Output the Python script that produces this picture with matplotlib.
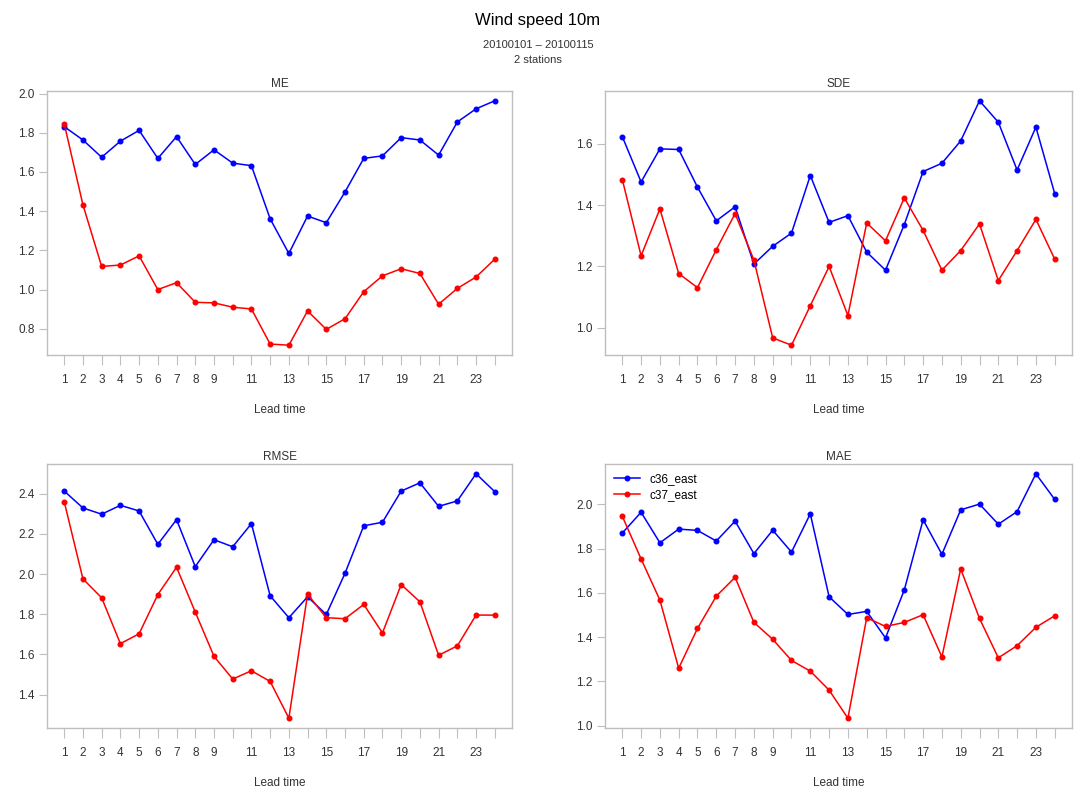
import matplotlib
matplotlib.use("Agg")
import matplotlib.pyplot as plt

plt.rcParams['font.family'] = ['Liberation Sans', 'DejaVu Sans']

lead_time = list(range(1, 25))
shown_labels = [1, 2, 3, 4, 5, 6, 7, 8, 9, 11, 13, 15, 17, 19, 21, 23]
series_names = ["c36_east", "c37_east"]

me_c36 = [1.831, 1.763, 1.675, 1.757, 1.812, 1.669, 1.780, 1.638, 1.713, 1.645, 1.632, 1.361,
          1.184, 1.375, 1.341, 1.498, 1.669, 1.682, 1.775, 1.763, 1.686, 1.855, 1.922, 1.963]
me_c37 = [1.846, 1.432, 1.118, 1.125, 1.172, 1.000, 1.035, 0.935, 0.932, 0.910, 0.901, 0.722,
          0.716, 0.891, 0.797, 0.851, 0.989, 1.070, 1.106, 1.082, 0.925, 1.006, 1.064, 1.155]

sde_c36 = [1.624, 1.476, 1.584, 1.582, 1.459, 1.349, 1.395, 1.208, 1.266, 1.309, 1.497, 1.344,
           1.366, 1.247, 1.188, 1.337, 1.510, 1.537, 1.610, 1.741, 1.671, 1.515, 1.655, 1.438]
sde_c37 = [1.484, 1.235, 1.388, 1.177, 1.131, 1.255, 1.373, 1.221, 0.967, 0.943, 1.072, 1.200,
           1.040, 1.342, 1.284, 1.424, 1.318, 1.188, 1.252, 1.339, 1.154, 1.252, 1.354, 1.224]

rmse_c36 = [2.413, 2.329, 2.298, 2.342, 2.314, 2.148, 2.271, 2.037, 2.171, 2.136, 2.251, 1.892,
            1.783, 1.887, 1.799, 2.004, 2.240, 2.258, 2.413, 2.454, 2.337, 2.364, 2.499, 2.410]
rmse_c37 = [2.360, 1.976, 1.882, 1.654, 1.703, 1.898, 2.034, 1.811, 1.591, 1.478, 1.519, 1.466,
            1.283, 1.900, 1.783, 1.778, 1.849, 1.707, 1.948, 1.862, 1.596, 1.643, 1.796, 1.796]

mae_c36 = [1.870, 1.964, 1.826, 1.888, 1.882, 1.834, 1.924, 1.777, 1.883, 1.784, 1.957, 1.582,
           1.502, 1.516, 1.396, 1.613, 1.930, 1.774, 1.975, 2.001, 1.910, 1.967, 2.138, 2.022]
mae_c37 = [1.946, 1.753, 1.567, 1.259, 1.439, 1.585, 1.670, 1.466, 1.390, 1.294, 1.246, 1.160,
           1.033, 1.487, 1.448, 1.466, 1.501, 1.310, 1.708, 1.484, 1.306, 1.361, 1.444, 1.496]

me_yticks = [0.8, 1.0, 1.2, 1.4, 1.6, 1.8, 2.0]
sde_yticks = [1.0, 1.2, 1.4, 1.6]
rmse_yticks = [1.4, 1.6, 1.8, 2.0, 2.2, 2.4]
mae_yticks = [1.0, 1.2, 1.4, 1.6, 1.8, 2.0]

panels = [
    ("ME", me_c36, me_c37, me_yticks),
    ("SDE", sde_c36, sde_c37, sde_yticks),
    ("RMSE", rmse_c36, rmse_c37, rmse_yticks),
    ("MAE", mae_c36, mae_c37, mae_yticks),
]

W, H = 1076, 792
fig = plt.figure(figsize=(W / 100, H / 100), dpi=100)

# pixel boxes: (left, top, right, bottom)
boxes = [(47, 91, 512, 355), (605, 91, 1072, 355),
         (47, 464, 512, 728), (605, 464, 1072, 728)]

gray = "#BEBEBE"
txt = "#333333"

for i, ((name, s1, s2, yt), (l, t, r, b)) in enumerate(zip(panels, boxes)):
    ax = fig.add_axes([l / W, 1 - b / H, (r - l) / W, (b - t) / H])
    ax.plot(lead_time, s1, color="#0000FF", lw=1.1, marker="o", ms=3.3, label=series_names[0])
    ax.plot(lead_time, s2, color="#FF0000", lw=1.1, marker="o", ms=3.3, label=series_names[1])
    allv = s1 + s2
    lo, hi = min(allv), max(allv)
    d = (hi - lo) * 0.04
    ax.set_ylim(lo - d, hi + d)
    ax.set_xlim(1 - 23 * 0.04, 24 + 23 * 0.04)
    ax.set_xticks(lead_time)
    ax.set_xticklabels([str(v) if v in shown_labels else "" for v in lead_time])
    ax.set_yticks(yt)
    ax.set_yticklabels([f"{v:.1f}" for v in yt])
    for sp in ax.spines.values():
        sp.set_color(gray)
        sp.set_linewidth(1.0)
    ax.tick_params(axis="x", length=7, width=0.8, color=gray, labelsize=8.5,
                   labelcolor=txt, pad=7)
    ax.tick_params(axis="y", length=6, width=0.8, color=gray, labelsize=8.5,
                   labelcolor=txt, pad=3)
    ax.set_title(name, fontsize=8.5, color=txt, pad=3)
    cx = (l + r) / 2 / W
    fig.text(cx, 1 - (b + 55) / H, "Lead time", ha="center", va="center",
             fontsize=8.5, color=txt)
    if name == "MAE":
        ax.legend(loc="upper left", frameon=False, fontsize=8.5, handlelength=2.2,
                  borderaxespad=0.5, labelspacing=0.35, handletextpad=0.8,
                  borderpad=0.3)

fig.text(0.5, 1 - 20 / H, "Wind speed 10m", ha="center", va="center", fontsize=12)
fig.text(0.5, 1 - 45 / H, "20100101 \u2013 20100115", ha="center", va="center",
         fontsize=8, color=txt)
fig.text(0.5, 1 - 60 / H, "2 stations", ha="center", va="center", fontsize=8, color=txt)

fig.savefig("out.png", dpi=100)
